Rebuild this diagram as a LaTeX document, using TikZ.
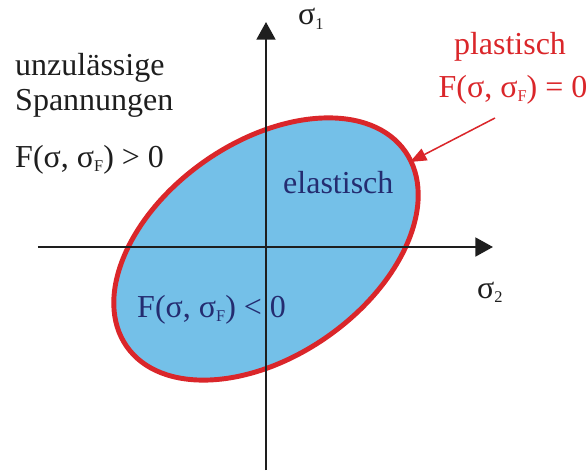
\documentclass[tikz,border=0pt]{standalone}
\usepackage{fontspec}
\setmainfont{Liberation Serif}
\usetikzlibrary{arrows.meta}
\definecolor{ink}{RGB}{30,30,30}
\definecolor{yieldred}{RGB}{218,38,42}
\definecolor{elasticfill}{RGB}{116,192,232}
\definecolor{elasticink}{RGB}{36,44,112}
% small lowered index, as in the figure
\newcommand{\idx}[1]{\raisebox{-4pt}{\fontsize{14}{14}\selectfont #1}}
\tikzset{
    axis/.style={
        draw=ink,
        line width=2.1pt,
        -{Triangle[length=15pt,width=16pt]}
    },
    yieldsurface/.style={
        draw=yieldred,
        fill=elasticfill,
        line width=4.2pt
    },
    pointer/.style={
        draw=yieldred,
        line width=1.3pt,
        -{Triangle[length=14pt,width=11pt]}
    },
    label/.style={
        font=\fontsize{27.3}{32}\selectfont,
        inner sep=0pt,
        text=ink
    },
    inside/.style={label, text=elasticink},
    plastic/.style={label, text=yieldred}
}

\begin{document}
\begin{tikzpicture}[x=0.03cm, y=0.03cm]
\useasboundingbox (-266,-223) rectangle (321,247);

% Elastic region bounded by the yield surface
\draw[yieldsurface, rotate around={35:(0,-2)}] (0,-2) ellipse (170 and 107);

% Axes
\coordinate (origin) at (0,0);
\coordinate (s2start) at (-228,0);
\coordinate (s2end) at (227,0);
\coordinate (s1start) at (0,-223);
\coordinate (s1end) at (0,225);
\draw[axis] (s2start) -- (s2end);
\draw[axis] (s1start) -- (s1end);
\node[label, anchor=base west] (s1) at (32,222) {σ\idx{1}};
\node[label, anchor=base west] (s2) at (211,-51) {σ\idx{2}};

% Inadmissible stresses
\node[label, anchor=base west] (inadm1) at (-251,172) {unzulässige};
\node[label, anchor=base west] (inadm2) at (-251,137) {Spannungen};
\node[label, anchor=base west] (inadmF) at (-251,80) {F(σ, σ\idx{F}) > 0};

% Elastic
\node[inside, anchor=base west] (elastic) at (17,54) {elastisch};
\node[inside, anchor=base west] (elasticF) at (-129,-70) {F(σ, σ\idx{F}) < 0};

% Plastic
\node[plastic, anchor=base] (plastic) at (244,192) {plastisch};
\node[plastic, anchor=base] (plasticF) at (247,150) {F(σ, σ\idx{F}) = 0};
\coordinate (hit) at (144,85);
\coordinate (tail) at (229,129);
\draw[pointer] (tail) -- (hit);
\end{tikzpicture}
\end{document}
